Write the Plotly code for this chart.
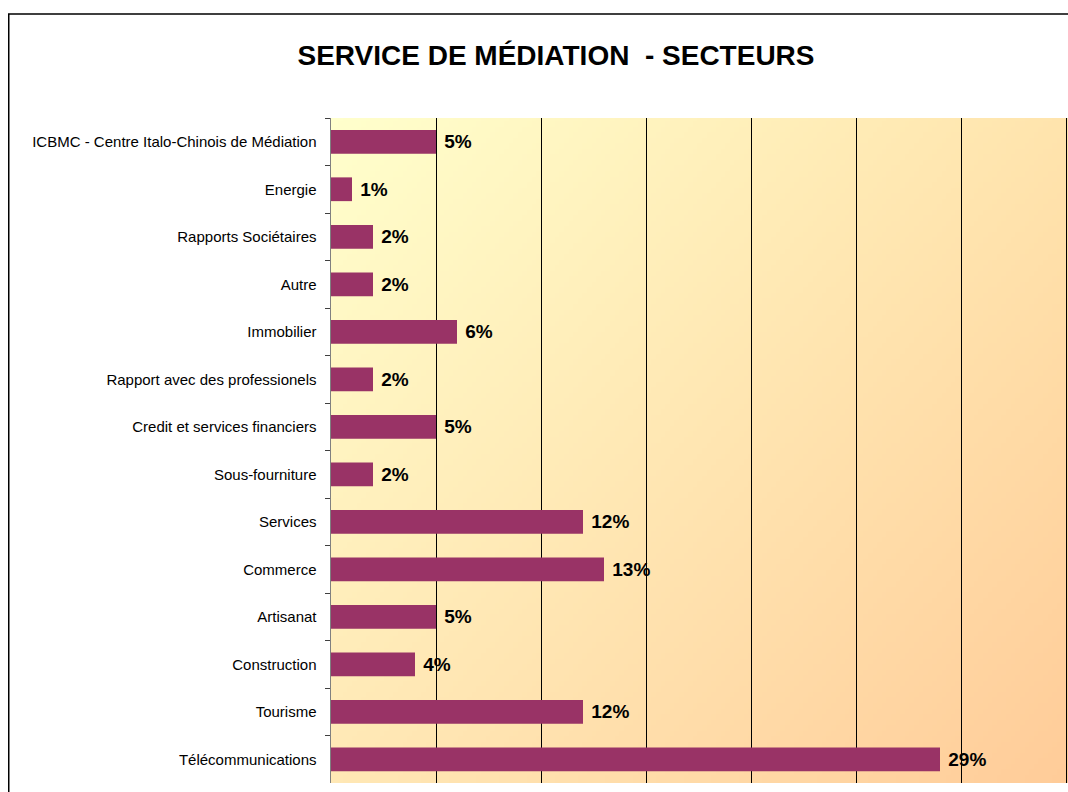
import base64, struct, zlib
import plotly.graph_objects as go

categories = [
    "ICBMC - Centre Italo-Chinois de Médiation",
    "Energie",
    "Rapports Sociétaires",
    "Autre",
    "Immobilier",
    "Rapport avec des professionels",
    "Credit et services financiers",
    "Sous-fourniture",
    "Services",
    "Commerce",
    "Artisanat",
    "Construction",
    "Tourisme",
    "Télécommunications",
]
values = [5, 1, 2, 2, 6, 2, 5, 2, 12, 13, 5, 4, 12, 29]
labels = [f"\u00a0{v}%" for v in values]

W, H = 1068, 792
ML, MR, MT, MB = 331, 0, 118, 9
PW, PH = W - ML - MR, H - MT - MB


def gradient_png(w, h, tl, tr, bl, br):
    rows = b""
    for j in range(h):
        v = j / (h - 1)
        row = b"\x00"
        for i in range(w):
            u = i / (w - 1)
            px = []
            for k in range(3):
                top = tl[k] * (1 - u) + tr[k] * u
                bot = bl[k] * (1 - u) + br[k] * u
                px.append(int(round(top * (1 - v) + bot * v)))
            row += bytes(px)
        rows += row

    def chunk(t, d):
        c = struct.pack(">I", len(d)) + t + d
        return c + struct.pack(">I", zlib.crc32(t + d) & 0xFFFFFFFF)

    png = b"\x89PNG\r\n\x1a\n"
    png += chunk(b"IHDR", struct.pack(">IIBBBBB", w, h, 8, 2, 0, 0, 0))
    png += chunk(b"IDAT", zlib.compress(rows, 9))
    png += chunk(b"IEND", b"")
    return "data:image/png;base64," + base64.b64encode(png).decode()


bg = gradient_png(160, 120, (255, 255, 204), (255, 228, 173), (255, 232, 181), (255, 204, 153))

fig = go.Figure(
    go.Bar(
        x=values,
        y=categories,
        orientation="h",
        width=0.5,
        marker=dict(color="#993366", line=dict(width=0)),
        text=labels,
        textposition="outside",
        cliponaxis=False,
        textfont=dict(family="Liberation Sans, Arial, sans-serif", size=19, color="#000000", weight="bold"),
        hoverinfo="skip",
    )
)

fig.add_layout_image(
    dict(source=bg, xref="paper", yref="paper", x=0, y=1, sizex=1, sizey=1,
         xanchor="left", yanchor="top", sizing="stretch", layer="below")
)

# outer chart frame (partially cropped)
fx0 = (8.75 - ML) / PW
fy1 = (H - MB - 14) / PH
fig.add_shape(type="rect", xref="paper", yref="paper", x0=fx0, x1=1.2, y0=-0.2, y1=fy1,
              line=dict(color="#000000", width=1.5), fillcolor="rgba(0,0,0,0)", layer="below")

fig.update_layout(
    width=W,
    height=H,
    margin=dict(l=ML, r=MR, t=MT, b=MB, pad=0),
    paper_bgcolor="#FFFFFF",
    plot_bgcolor="rgba(0,0,0,0)",
    showlegend=False,
    bargap=0.5,
    hovermode=False,
    title=dict(
        text="SERVICE DE MÉDIATION\u00a0\u00a0- SECTEURS",
        x=556 / W, xanchor="center",
        y=1 - 55 / H, yanchor="middle",
        font=dict(family="Liberation Sans, Arial, sans-serif", size=28, color="#000000", weight="bold"),
    ),
    xaxis=dict(
        range=[0, PW / 105 * 5],
        tick0=0, dtick=5,
        showgrid=True, gridcolor="#000000", gridwidth=1,
        showticklabels=False, ticks="",
        zeroline=False, showline=False,
        fixedrange=True,
    ),
    yaxis=dict(
        autorange="reversed",
        type="category",
        tickson="boundaries",
        ticks="outside", ticklen=5, tickcolor="#404040", tickwidth=1,
        showline=True, linecolor="#808080", linewidth=1.5,
        showgrid=False,
        ticklabelstandoff=10,
        tickfont=dict(family="Liberation Sans, Arial, sans-serif", size=15, color="#000000"),
        fixedrange=True,
    ),
)

fig.write_html(
    "out.html",
    config={"displayModeBar": False, "staticPlot": True},
    post_script="document.body.style.margin='0';document.body.style.overflow='hidden';",
)
